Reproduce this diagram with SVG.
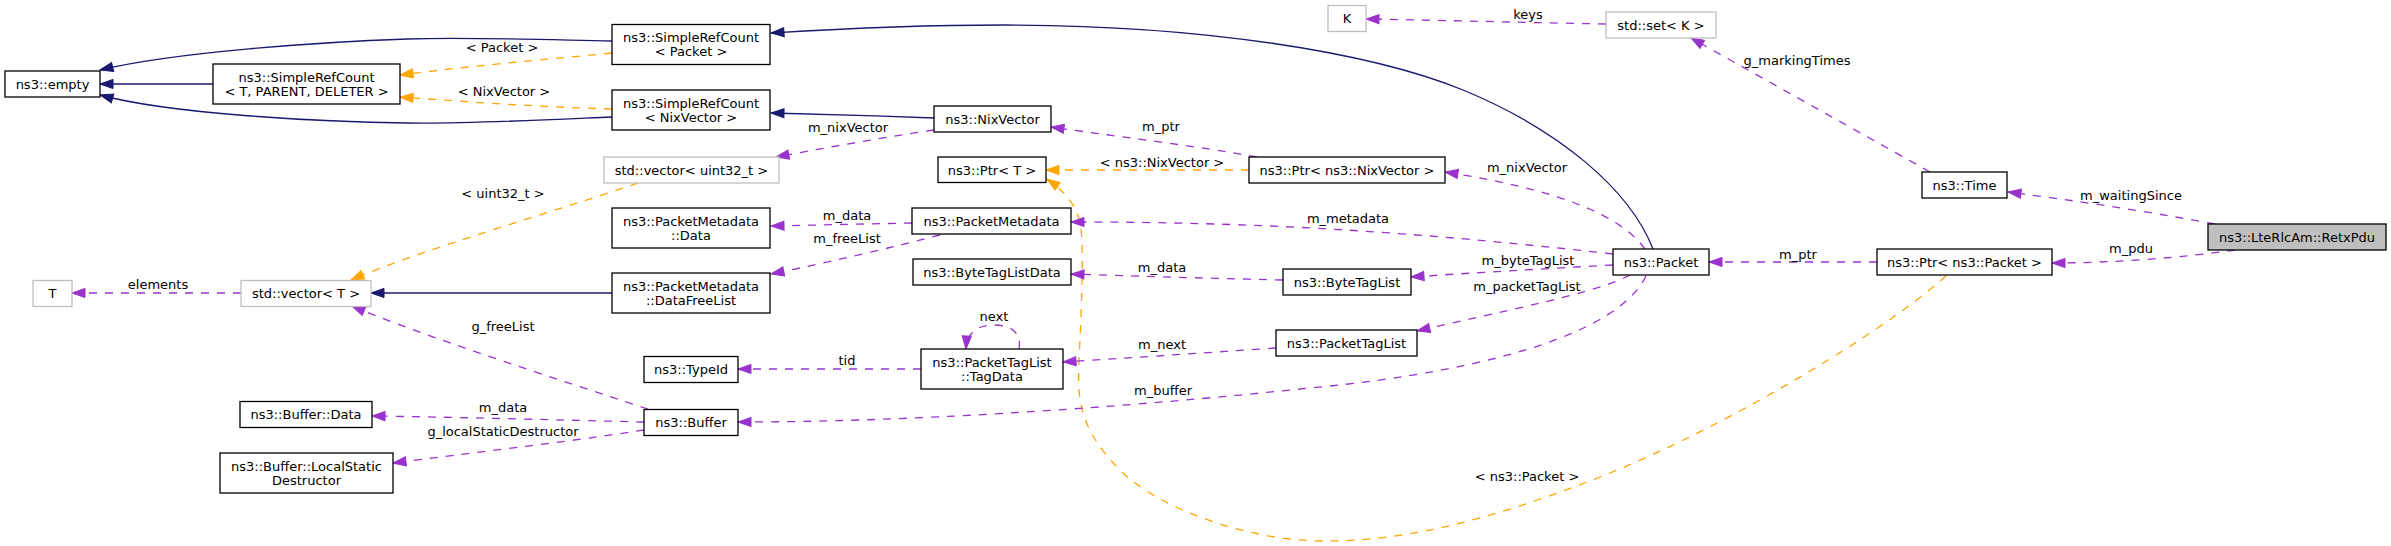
<svg xmlns="http://www.w3.org/2000/svg" width="2391" height="546" viewBox="0 0 2391 546">
<style>
.n rect{fill:#fff;stroke:#000;stroke-width:1.3}
.n.u rect{stroke:#bfbfbf}
.n.f rect{fill:#bfbfbf}
text{font-family:"DejaVu Sans",sans-serif;font-size:13px;fill:#000;text-anchor:middle}
.e path{fill:none;stroke-width:1.3}
.e .inh{stroke:#191970;marker-end:url(#mb)}
.e .use{stroke:#9a32cd;stroke-dasharray:8,8;marker-end:url(#mp)}
.e .tpl{stroke:#ffa500;stroke-dasharray:8,8;marker-end:url(#mo)}
</style>
<defs>
<marker id="mb" markerUnits="userSpaceOnUse" markerWidth="14" markerHeight="10" refX="13" refY="5" orient="auto" overflow="visible"><path d="M0,0.4L13,5L0,9.6z" fill="#191970" stroke="#191970" stroke-width="1"/></marker>
<marker id="mp" markerUnits="userSpaceOnUse" markerWidth="14" markerHeight="10" refX="13" refY="5" orient="auto" overflow="visible"><path d="M0,0.4L13,5L0,9.6z" fill="#9a32cd" stroke="#9a32cd" stroke-width="1"/></marker>
<marker id="mo" markerUnits="userSpaceOnUse" markerWidth="14" markerHeight="10" refX="13" refY="5" orient="auto" overflow="visible"><path d="M0,0.4L13,5L0,9.6z" fill="#ffa500" stroke="#ffa500" stroke-width="1"/></marker>
</defs>
<rect x="0" y="0" width="2391" height="546" fill="#fff"/>

<g id="edges" class="e">
<path class="inh" d="M612,41 C520,39 460,37 408,39 C320,42 175,52 100,70"/>
<path class="inh" d="M213,84 L100,84"/>
<path class="inh" d="M612,117 C520,121 460,124 408,123 C320,122 170,114 100,95"/>
<path class="tpl" d="M612,53 C540,60 470,66 400,75"/>
<text x="502" y="52">&lt; Packet &gt;</text>
<path class="tpl" d="M612,109 C540,107 470,102 400,97"/>
<text x="504" y="96">&lt; NixVector &gt;</text>
<path class="inh" d="M1653,249 C1630,190 1560,130 1463,90 C1370,52 1200,25 1004,25 C900,25 820,30 771,33"/>
<path class="inh" d="M934,118 C880,116 820,114 771,113"/>
<path class="use" d="M934,130 C880,138 830,147 776,157"/>
<text x="848" y="132">m_nixVector</text>
<path class="tpl" d="M638,183 C560,210 420,250 351,280"/>
<text x="503" y="198">&lt; uint32_t &gt;</text>
<path class="inh" d="M612,293 L371,293"/>
<path class="use" d="M241,293 L72,293"/>
<text x="158" y="289">elements</text>
<path class="use" d="M648,409 C560,380 420,335 352,306"/>
<text x="503" y="331">g_freeList</text>
<path class="use" d="M644,422 C560,420 450,417 372,416"/>
<text x="503" y="412">m_data</text>
<path class="use" d="M644,430 C560,443 470,453 393,463"/>
<text x="503" y="436">g_localStaticDestructor</text>
<path class="use" d="M912,223 C860,224 820,225 771,226"/>
<text x="847" y="220">m_data</text>
<path class="use" d="M940,235 C890,248 830,262 771,274"/>
<text x="847" y="243">m_freeList</text>
<path class="use" d="M921,369 L738,369"/>
<text x="847" y="365">tid</text>
<path class="use" d="M1019,349 C1022,332 1010,325 994,325 C978,325 967,332 966,349"/>
<text x="994" y="321">next</text>
<path class="tpl" d="M1249,170 L1046,170"/>
<text x="1162" y="167">&lt; ns3::NixVector &gt;</text>
<path class="use" d="M1257,157 C1190,145 1120,137 1051,127"/>
<text x="1161" y="131">m_ptr</text>
<path class="use" d="M1645,249 C1620,215 1560,190 1445,172"/>
<text x="1527" y="172">m_nixVector</text>
<path class="tpl" d="M1946,276 C1880,335 1720,430 1600,477 C1480,524 1400,541 1325,541 C1250,541 1160,510 1120,470 C1080,430 1077,400 1079,360 C1081,320 1084,255 1081,228 C1078,205 1063,190 1047,179"/>
<text x="1527" y="481">&lt; ns3::Packet &gt;</text>
<path class="use" d="M1613,254 C1400,230 1250,222 1071,222"/>
<text x="1348" y="223">m_metadata</text>
<path class="use" d="M1613,265 C1540,269 1470,273 1411,277"/>
<text x="1528" y="265">m_byteTagList</text>
<path class="use" d="M1283,280 C1200,278 1130,276 1071,274"/>
<text x="1162" y="272">m_data</text>
<path class="use" d="M1630,275 C1600,292 1500,312 1417,331"/>
<text x="1527" y="291">m_packetTagList</text>
<path class="use" d="M1276,348 C1200,353 1130,358 1063,362"/>
<text x="1162" y="349">m_next</text>
<path class="use" d="M1646,276 C1620,330 1500,370 1310,388 C1100,410 900,422 738,422"/>
<text x="1163" y="395">m_buffer</text>
<path class="use" d="M1930,172 L1691,38"/>
<text x="1797" y="65">g_markingTimes</text>
<path class="use" d="M1606,24 C1500,22 1430,20 1366,19"/>
<text x="1528" y="19">keys</text>
<path class="use" d="M2215,224 C2140,210 2070,200 2008,192"/>
<text x="2131" y="200">m_waitingSince</text>
<path class="use" d="M2235,250 C2180,258 2110,263 2052,263"/>
<text x="2131" y="253">m_pdu</text>
<path class="use" d="M1877,262 L1709,262"/>
<text x="1798" y="259">m_ptr</text>
</g>

<g id="n_empty" class="n"><rect x="5" y="71" width="95" height="26"/><text x="52.5" y="88.5">ns3::empty</text></g>
<g id="n_src_tpd" class="n"><rect x="213" y="64" width="187" height="40"/><text x="306.5" y="81.5">ns3::SimpleRefCount</text><text x="306.5" y="95.5">&lt; T, PARENT, DELETER &gt;</text></g>
<g id="n_src_packet" class="n"><rect x="612" y="24.5" width="158" height="40"/><text x="691" y="42">ns3::SimpleRefCount</text><text x="691" y="56">&lt; Packet &gt;</text></g>
<g id="n_src_nix" class="n"><rect x="612" y="90" width="158" height="40"/><text x="691" y="107.5">ns3::SimpleRefCount</text><text x="691" y="121.5">&lt; NixVector &gt;</text></g>
<g id="n_vec_u32" class="n u"><rect x="604" y="157" width="175" height="26"/><text x="691.5" y="174.5">std::vector&lt; uint32_t &gt;</text></g>
<g id="n_pm_data" class="n"><rect x="612" y="208" width="158" height="40"/><text x="691" y="225.5">ns3::PacketMetadata</text><text x="691" y="239.5">::Data</text></g>
<g id="n_T" class="n u"><rect x="33" y="280.5" width="39" height="26"/><text x="52.5" y="298">T</text></g>
<g id="n_vec_T" class="n u"><rect x="241" y="280.5" width="130" height="26"/><text x="306" y="298">std::vector&lt; T &gt;</text></g>
<g id="n_dfl" class="n"><rect x="612" y="273" width="158" height="40"/><text x="691" y="290.5">ns3::PacketMetadata</text><text x="691" y="304.5">::DataFreeList</text></g>
<g id="n_typeid" class="n"><rect x="644" y="356.5" width="94" height="26"/><text x="691" y="374">ns3::TypeId</text></g>
<g id="n_buf_data" class="n"><rect x="240" y="401.5" width="132" height="26"/><text x="306" y="419">ns3::Buffer::Data</text></g>
<g id="n_lsd" class="n"><rect x="220" y="453" width="173" height="40"/><text x="306.5" y="470.5">ns3::Buffer::LocalStatic</text><text x="306.5" y="484.5">Destructor</text></g>
<g id="n_buffer" class="n"><rect x="644" y="409.5" width="94" height="26"/><text x="691" y="427">ns3::Buffer</text></g>
<g id="n_K" class="n u"><rect x="1328" y="5.5" width="38" height="26"/><text x="1347" y="23">K</text></g>
<g id="n_nixvector" class="n"><rect x="934" y="106" width="117" height="26"/><text x="992.5" y="123.5">ns3::NixVector</text></g>
<g id="n_ptrT" class="n"><rect x="938" y="157" width="108" height="25.5"/><text x="992" y="174.5">ns3::Ptr&lt; T &gt;</text></g>
<g id="n_ptrnix" class="n"><rect x="1249" y="157" width="196" height="26"/><text x="1347" y="174.5">ns3::Ptr&lt; ns3::NixVector &gt;</text></g>
<g id="n_pm" class="n"><rect x="912" y="208" width="159" height="26"/><text x="991.5" y="225.5">ns3::PacketMetadata</text></g>
<g id="n_btld" class="n"><rect x="913" y="259" width="158" height="26"/><text x="992" y="276.5">ns3::ByteTagListData</text></g>
<g id="n_btl" class="n"><rect x="1283" y="269" width="128" height="26"/><text x="1347" y="286.5">ns3::ByteTagList</text></g>
<g id="n_ptl" class="n"><rect x="1276" y="330" width="141" height="26"/><text x="1346.5" y="347.5">ns3::PacketTagList</text></g>
<g id="n_tagdata" class="n"><rect x="921" y="349" width="142" height="40"/><text x="992" y="366.5">ns3::PacketTagList</text><text x="992" y="380.5">::TagData</text></g>
<g id="n_set" class="n u"><rect x="1606" y="12" width="110" height="26"/><text x="1661" y="29.5">std::set&lt; K &gt;</text></g>
<g id="n_time" class="n"><rect x="1922" y="172" width="85" height="26"/><text x="1964.5" y="189.5">ns3::Time</text></g>
<g id="n_packet" class="n"><rect x="1613" y="249" width="96" height="26"/><text x="1661" y="266.5">ns3::Packet</text></g>
<g id="n_ptrpkt" class="n"><rect x="1877" y="249" width="175" height="26"/><text x="1964.5" y="266.5">ns3::Ptr&lt; ns3::Packet &gt;</text></g>
<g id="n_retx" class="n f"><rect x="2208" y="224" width="178" height="26"/><text x="2297" y="241.5">ns3::LteRlcAm::RetxPdu</text></g>
</svg>
